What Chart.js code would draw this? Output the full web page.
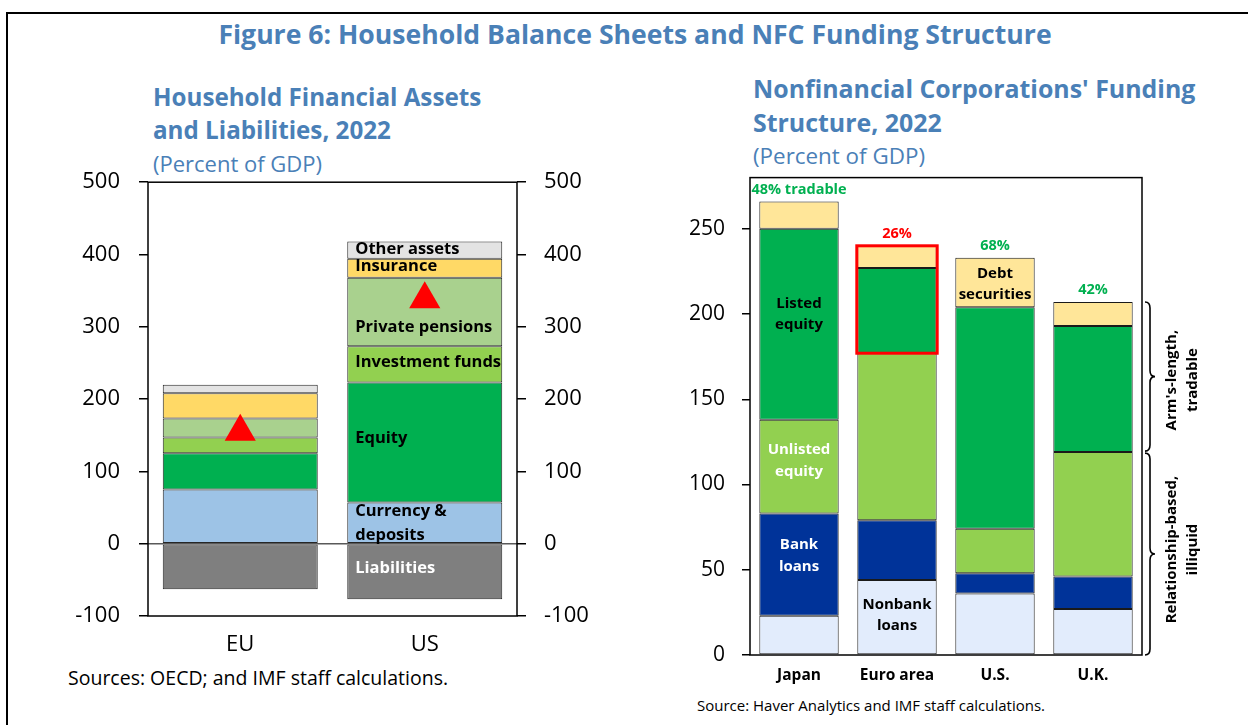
<!DOCTYPE html>
<html><head><meta charset="utf-8">
<script src="https://cdn.jsdelivr.net/npm/chart.js@4.4.1/dist/chart.umd.min.js"></script>
<style>
html,body{margin:0;padding:0;background:#fff;width:1248px;height:725px;overflow:hidden;font-family:"Open Sans",sans-serif;}
#frame{position:absolute;left:6px;top:12px;width:1260px;height:730px;border-left:2px solid #000;border-top:2px solid #000;box-sizing:border-box;}
.t{position:absolute;color:#4a80b7;white-space:nowrap;}
.b{font-weight:700;}
.src{position:absolute;color:#000;white-space:nowrap;}
#c1{position:absolute;left:40px;top:150px;}
#c2{position:absolute;left:640px;top:148px;}
</style>
</head><body>
<div id="frame"></div>
<div class="t b" style="left:0;width:1270px;text-align:center;top:17px;font-size:26.6px;line-height:34px;">Figure 6: Household Balance Sheets and NFC Funding Structure</div>
<div class="t b" style="left:153px;top:80px;font-size:24.2px;line-height:33px;">Household Financial Assets<br>and Liabilities, 2022</div>
<div class="t" style="left:153px;top:149px;font-size:22px;line-height:28px;">(Percent of GDP)</div>
<div class="t b" style="left:753px;top:71px;font-size:24.9px;line-height:34px;">Nonfinancial Corporations' Funding<br>Structure, 2022</div>
<div class="t" style="left:753px;top:142px;font-size:22.4px;line-height:28px;">(Percent of GDP)</div>
<div class="src" style="left:68px;top:666px;font-size:19.5px;line-height:24px;">Sources: OECD; and IMF staff calculations.</div>
<div class="src" style="left:697px;top:695px;font-size:15px;line-height:20px;">Source: Haver Analytics and IMF staff calculations.</div>
<canvas id="c1" width="600" height="520"></canvas>
<canvas id="c2" width="608" height="542"></canvas>
<script>
// ---------- Left chart data ----------
const hhCategories = ['EU', 'US'];
const hhLiabilities = [-63, -77];
const hhCurrency = [75, 57];
const hhEquity = [50, 166];
const hhInvFunds = [22, 50];
const hhPensions = [26, 95];
const hhInsurance = [35, 26];
const hhOther = [12, 24];
const hhMarkers = [155, 338];
const hhTicks = [500, 400, 300, 200, 100, 0, -100];

// ---------- Right chart data ----------
const nfcCategories = ['Japan', 'Euro area', 'U.S.', 'U.K.'];
const nfcNonbank = [23, 44, 36, 27];
const nfcBank = [60, 35, 12, 19];
const nfcUnlisted = [55, 98, 26, 73];
const nfcListed = [112, 50, 130, 74];
const nfcDebt = [16, 13, 29, 14];
const nfcTradable = ['48% tradable', '26%', '68%', '42%'];
const nfcTicks = [0, 50, 100, 150, 200, 250];

const FONT = '"Open Sans", sans-serif';
Chart.defaults.font.family = FONT;
Chart.defaults.color = '#000';

function boxPlugin(id) {
  return {
    id: id,
    afterDatasetsDraw(chart) {
      const a = chart.chartArea, ctx = chart.ctx;
      ctx.save();
      ctx.strokeStyle = '#000';
      ctx.lineWidth = 1.5;
      ctx.strokeRect(a.left, a.top, a.right - a.left, a.bottom - a.top);
      ctx.restore();
    }
  };
}

function drawLines(ctx, lines, x, yc, lh) {
  const n = lines.length;
  lines.forEach((l, i) => ctx.fillText(l, x, yc + (i - (n - 1) / 2) * lh));
}

// ---------- Left chart ----------
const hhLabels = [
  { ds: 6, idx: 1, text: ['Other assets'], dy: -1, color: '#000' },
  { ds: 5, idx: 1, text: ['Insurance'], dy: -2, color: '#000' },
  { ds: 4, idx: 1, text: ['Private pensions'], dy: 15, color: '#000' },
  { ds: 3, idx: 1, text: ['Investment funds'], dy: -2, color: '#000' },
  { ds: 2, idx: 1, text: ['Equity'], dy: -4, color: '#000' },
  { ds: 1, idx: 1, text: ['Currency &', 'deposits'], dy: 1, color: '#000' },
  { ds: 0, idx: 1, text: ['Liabilities'], dy: -4, color: '#fff' }
];

const hhLabelPlugin = {
  id: 'hhLabels',
  afterDatasetsDraw(chart) {
    const ctx = chart.ctx;
    ctx.save();
    ctx.font = '700 16.5px ' + FONT;
    ctx.textAlign = 'left';
    ctx.textBaseline = 'middle';
    hhLabels.forEach(L => {
      const el = chart.getDatasetMeta(L.ds).data[L.idx];
      const mid = (el.y + el.base) / 2 + L.dy;
      ctx.fillStyle = L.color;
      drawLines(ctx, L.text, el.x - el.width / 2 + 8, mid, 24);
    });
    ctx.restore();
  }
};

const barCommon = { borderColor: '#262626', borderWidth: 1, borderSkipped: false, barPercentage: 0.84, categoryPercentage: 1 };

new Chart(document.getElementById('c1'), {
  type: 'bar',
  data: {
    labels: hhCategories,
    datasets: [
      Object.assign({ label: 'Liabilities', data: hhLiabilities, backgroundColor: '#7f7f7f' }, barCommon),
      Object.assign({ label: 'Currency & deposits', data: hhCurrency, backgroundColor: '#9dc3e6' }, barCommon),
      Object.assign({ label: 'Equity', data: hhEquity, backgroundColor: '#00b050' }, barCommon),
      Object.assign({ label: 'Investment funds', data: hhInvFunds, backgroundColor: '#92d050' }, barCommon),
      Object.assign({ label: 'Private pensions', data: hhPensions, backgroundColor: '#a9d18e' }, barCommon),
      Object.assign({ label: 'Insurance', data: hhInsurance, backgroundColor: '#ffd966' }, barCommon),
      Object.assign({ label: 'Other assets', data: hhOther, backgroundColor: '#e3e3e3' }, barCommon),
      { type: 'line', label: 'Increase', data: hhMarkers, showLine: false, pointStyle: 'triangle',
        pointRadius: 18, pointHoverRadius: 18, pointBackgroundColor: '#ff0000', pointBorderWidth: 0, order: -1 }
    ]
  },
  options: {
    responsive: false, animation: false,
    layout: { padding: { top: 20, left: 0, right: 0, bottom: 0 } },
    plugins: { legend: { display: false }, tooltip: { enabled: false } },
    scales: {
      x: {
        stacked: true, offset: true,
        grid: { display: false }, border: { display: false },
        ticks: { font: { size: 22 }, padding: 8, color: '#000' },
        afterFit(s) { s.height = 54; }
      },
      y: {
        stacked: true, min: -100, max: 500, position: 'left',
        afterBuildTicks(s) { s.ticks = hhTicks.map(v => ({ value: v })); },
        grid: { color: c => (c.tick && c.tick.value === 0) ? '#595959' : 'rgba(0,0,0,0)', tickColor: '#000', tickLength: 9, lineWidth: 1.5 },
        border: { display: false },
        ticks: { font: { size: 22 }, padding: 19, color: '#000' },
        afterFit(s) { s.width = 108; }
      },
      y2: {
        min: -100, max: 500, position: 'right',
        afterBuildTicks(s) { s.ticks = hhTicks.map(v => ({ value: v })); },
        grid: { drawOnChartArea: false, tickColor: '#000', tickLength: 9, lineWidth: 1.5 },
        border: { display: false },
        ticks: { font: { size: 22 }, padding: 18, color: '#000' },
        afterFit(s) { s.width = 123; }
      }
    }
  },
  plugins: [boxPlugin('box1'), hhLabelPlugin]
});

// ---------- Right chart ----------
const nfcLabels = [
  { ds: 3, idx: 0, text: ['Listed', 'equity'], dy: -10, color: '#000' },
  { ds: 2, idx: 0, text: ['Unlisted', 'equity'], dy: -6, color: '#fff' },
  { ds: 1, idx: 0, text: ['Bank', 'loans'], dy: -9, color: '#fff' },
  { ds: 0, idx: 1, text: ['Nonbank', 'loans'], dy: -2, color: '#000' },
  { ds: 4, idx: 2, text: ['Debt', 'securities'], dy: 2, color: '#000' }
];

function brace(ctx, x, y1, y2, w) {
  const ym = (y1 + y2) / 2, r = 6, xm = x + w / 2;
  ctx.beginPath();
  ctx.moveTo(x, y1);
  ctx.quadraticCurveTo(xm, y1, xm, y1 + r);
  ctx.lineTo(xm, ym - r);
  ctx.quadraticCurveTo(xm, ym, x + w, ym);
  ctx.quadraticCurveTo(xm, ym, xm, ym + r);
  ctx.lineTo(xm, y2 - r);
  ctx.quadraticCurveTo(xm, y2, x, y2);
  ctx.stroke();
}

const nfcPlugin = {
  id: 'nfcLabels',
  afterDatasetsDraw(chart) {
    const ctx = chart.ctx, ys = chart.scales.y, a = chart.chartArea;
    ctx.save();
    ctx.font = '700 15px ' + FONT;
    ctx.textAlign = 'center';
    ctx.textBaseline = 'middle';
    nfcLabels.forEach(L => {
      const el = chart.getDatasetMeta(L.ds).data[L.idx];
      ctx.fillStyle = L.color;
      drawLines(ctx, L.text, el.x, (el.y + el.base) / 2 + L.dy, 21.5);
    });
    const topMeta = chart.getDatasetMeta(4);
    ctx.font = '700 14.5px ' + FONT;
    nfcTradable.forEach((t, i) => {
      const el = topMeta.data[i];
      ctx.fillStyle = i === 1 ? '#ff0000' : '#00b050';
      ctx.fillText(t, el.x, el.y - 12);
    });
    const eListed = chart.getDatasetMeta(3).data[1];
    const eDebt = topMeta.data[1];
    ctx.strokeStyle = '#ff0000';
    ctx.lineWidth = 3;
    ctx.strokeRect(eDebt.x - eDebt.width / 2 - 0.5, eDebt.y, eDebt.width + 1, eListed.base - eDebt.y);
    const uk = 3;
    const ukTop = nfcNonbank[uk] + nfcBank[uk] + nfcUnlisted[uk] + nfcListed[uk] + nfcDebt[uk];
    const ukIll = nfcNonbank[uk] + nfcBank[uk] + nfcUnlisted[uk];
    const yT = ys.getPixelForValue(ukTop), yM = ys.getPixelForValue(ukIll), yB = ys.getPixelForValue(0);
    const bx = a.right + 3;
    ctx.strokeStyle = '#000';
    ctx.lineWidth = 1.6;
    brace(ctx, bx, yT, yM - 1, 10);
    brace(ctx, bx, yM + 1, yB, 10);
    ctx.fillStyle = '#000';
    ctx.font = '700 15px ' + FONT;
    const drawRot = (lines, cy) => {
      ctx.save();
      ctx.translate(bx + 37, cy);
      ctx.rotate(-Math.PI / 2);
      ctx.textAlign = 'center';
      ctx.textBaseline = 'middle';
      drawLines(ctx, lines, 0, 0, 21);
      ctx.restore();
    };
    drawRot(["Arm's-length,", 'tradable'], (yT + yM) / 2 + 3);
    drawRot(['Relationship-based,', 'illiquid'], (yM + yB) / 2 - 4);
    ctx.restore();
  }
};

const bar2 = { borderColor: '#1a1a1a', borderWidth: 1, borderSkipped: false, barPercentage: 0.81, categoryPercentage: 1 };

new Chart(document.getElementById('c2'), {
  type: 'bar',
  data: {
    labels: nfcCategories,
    datasets: [
      Object.assign({ label: 'Nonbank loans', data: nfcNonbank, backgroundColor: '#e2ecfc' }, bar2),
      Object.assign({ label: 'Bank loans', data: nfcBank, backgroundColor: '#003399' }, bar2),
      Object.assign({ label: 'Unlisted equity', data: nfcUnlisted, backgroundColor: '#92d050' }, bar2),
      Object.assign({ label: 'Listed equity', data: nfcListed, backgroundColor: '#00b050' }, bar2),
      Object.assign({ label: 'Debt securities', data: nfcDebt, backgroundColor: '#ffe699' }, bar2)
    ]
  },
  options: {
    responsive: false, animation: false,
    layout: { padding: { top: 20, left: 0, right: 106, bottom: 0 } },
    plugins: { legend: { display: false }, tooltip: { enabled: false } },
    scales: {
      x: {
        stacked: true, offset: true,
        grid: { display: false }, border: { display: false },
        ticks: { font: { size: 15.5, weight: '700' }, padding: 3, color: '#000' },
        afterFit(s) { s.height = 35; }
      },
      y: {
        stacked: true, min: 0, max: 280,
        afterBuildTicks(s) { s.ticks = nfcTicks.map(v => ({ value: v })); },
        grid: { drawOnChartArea: false, tickColor: '#000', tickLength: 8, lineWidth: 1.5 },
        border: { display: false },
        ticks: { font: { size: 21 }, padding: 17, color: '#000' },
        afterFit(s) { s.width = 110; }
      }
    }
  },
  plugins: [boxPlugin('box2'), nfcPlugin]
});
</script>
</body></html>
